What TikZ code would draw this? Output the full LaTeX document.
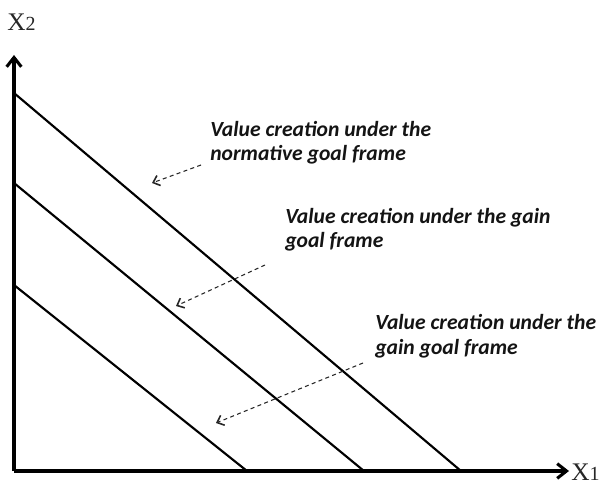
\documentclass[tikz,border=0pt]{standalone}
\usepackage{fontspec}
\setmainfont{Liberation Serif}
\newfontfamily\lblfont{Carlito}
\usetikzlibrary{arrows.meta}
\begin{document}
\begin{tikzpicture}[x=0.75pt,y=-0.75pt,
  axis/.style={line width=2.3pt,-{Straight Barb[length=7pt,width=11pt,line width=2.3pt]}},
  budget/.style={line width=1.6pt},
  pointer/.style={dashed,dash pattern=on 3pt off 2.5pt,line width=0.8pt,color=black!85,-{Straight Barb[length=4.5pt,width=8pt,line width=1.2pt]}},
  lbl/.style={anchor=base west,align=left,inner sep=0pt,font=\lblfont\bfseries\itshape\fontsize{16.2}{18.5}\selectfont,text=black!92},
  axlbl/.style={inner sep=0pt,font=\fontsize{19}{21}\selectfont,text=black!85}]
\useasboundingbox (0,0) rectangle (599,484);
\coordinate (O) at (14,471);
\coordinate (Ytop) at (14,55);
\coordinate (Xend) at (569,471);
\draw[axis] (O) -- (Ytop);
\draw[axis] (O) -- (Xend);
\node[axlbl,anchor=base west] (x2) at (7,31) {X{\fontsize{15}{17}\selectfont 2}};
\node[axlbl,anchor=base west] (x1) at (571,480) {X{\fontsize{15}{17}\selectfont 1}};
% budget lines
\coordinate (a1) at (14,93);  \coordinate (b1) at (461,471);
\coordinate (a2) at (14,183); \coordinate (b2) at (364,471);
\coordinate (a3) at (14,285); \coordinate (b3) at (247,471);
\draw[budget] (a1) -- (b1);
\draw[budget] (a2) -- (b2);
\draw[budget] (a3) -- (b3);
% labels
\node[lbl] (t1) at (210,161) {Value creation under the\\normative goal frame};
\node[lbl] (t2) at (285,248) {Value creation under the gain\\goal frame};
\node[lbl] (t3) at (375,354) {Value creation under the\\gain goal frame};
\coordinate (s1) at (201,165); \coordinate (e1) at (152,183);
\coordinate (s2) at (265,265); \coordinate (e2) at (176,306);
\coordinate (s3) at (363,363); \coordinate (e3) at (216,423);
\draw[pointer] (s1) -- (e1);
\draw[pointer] (s2) -- (e2);
\draw[pointer] (s3) -- (e3);
\end{tikzpicture}
\end{document}
